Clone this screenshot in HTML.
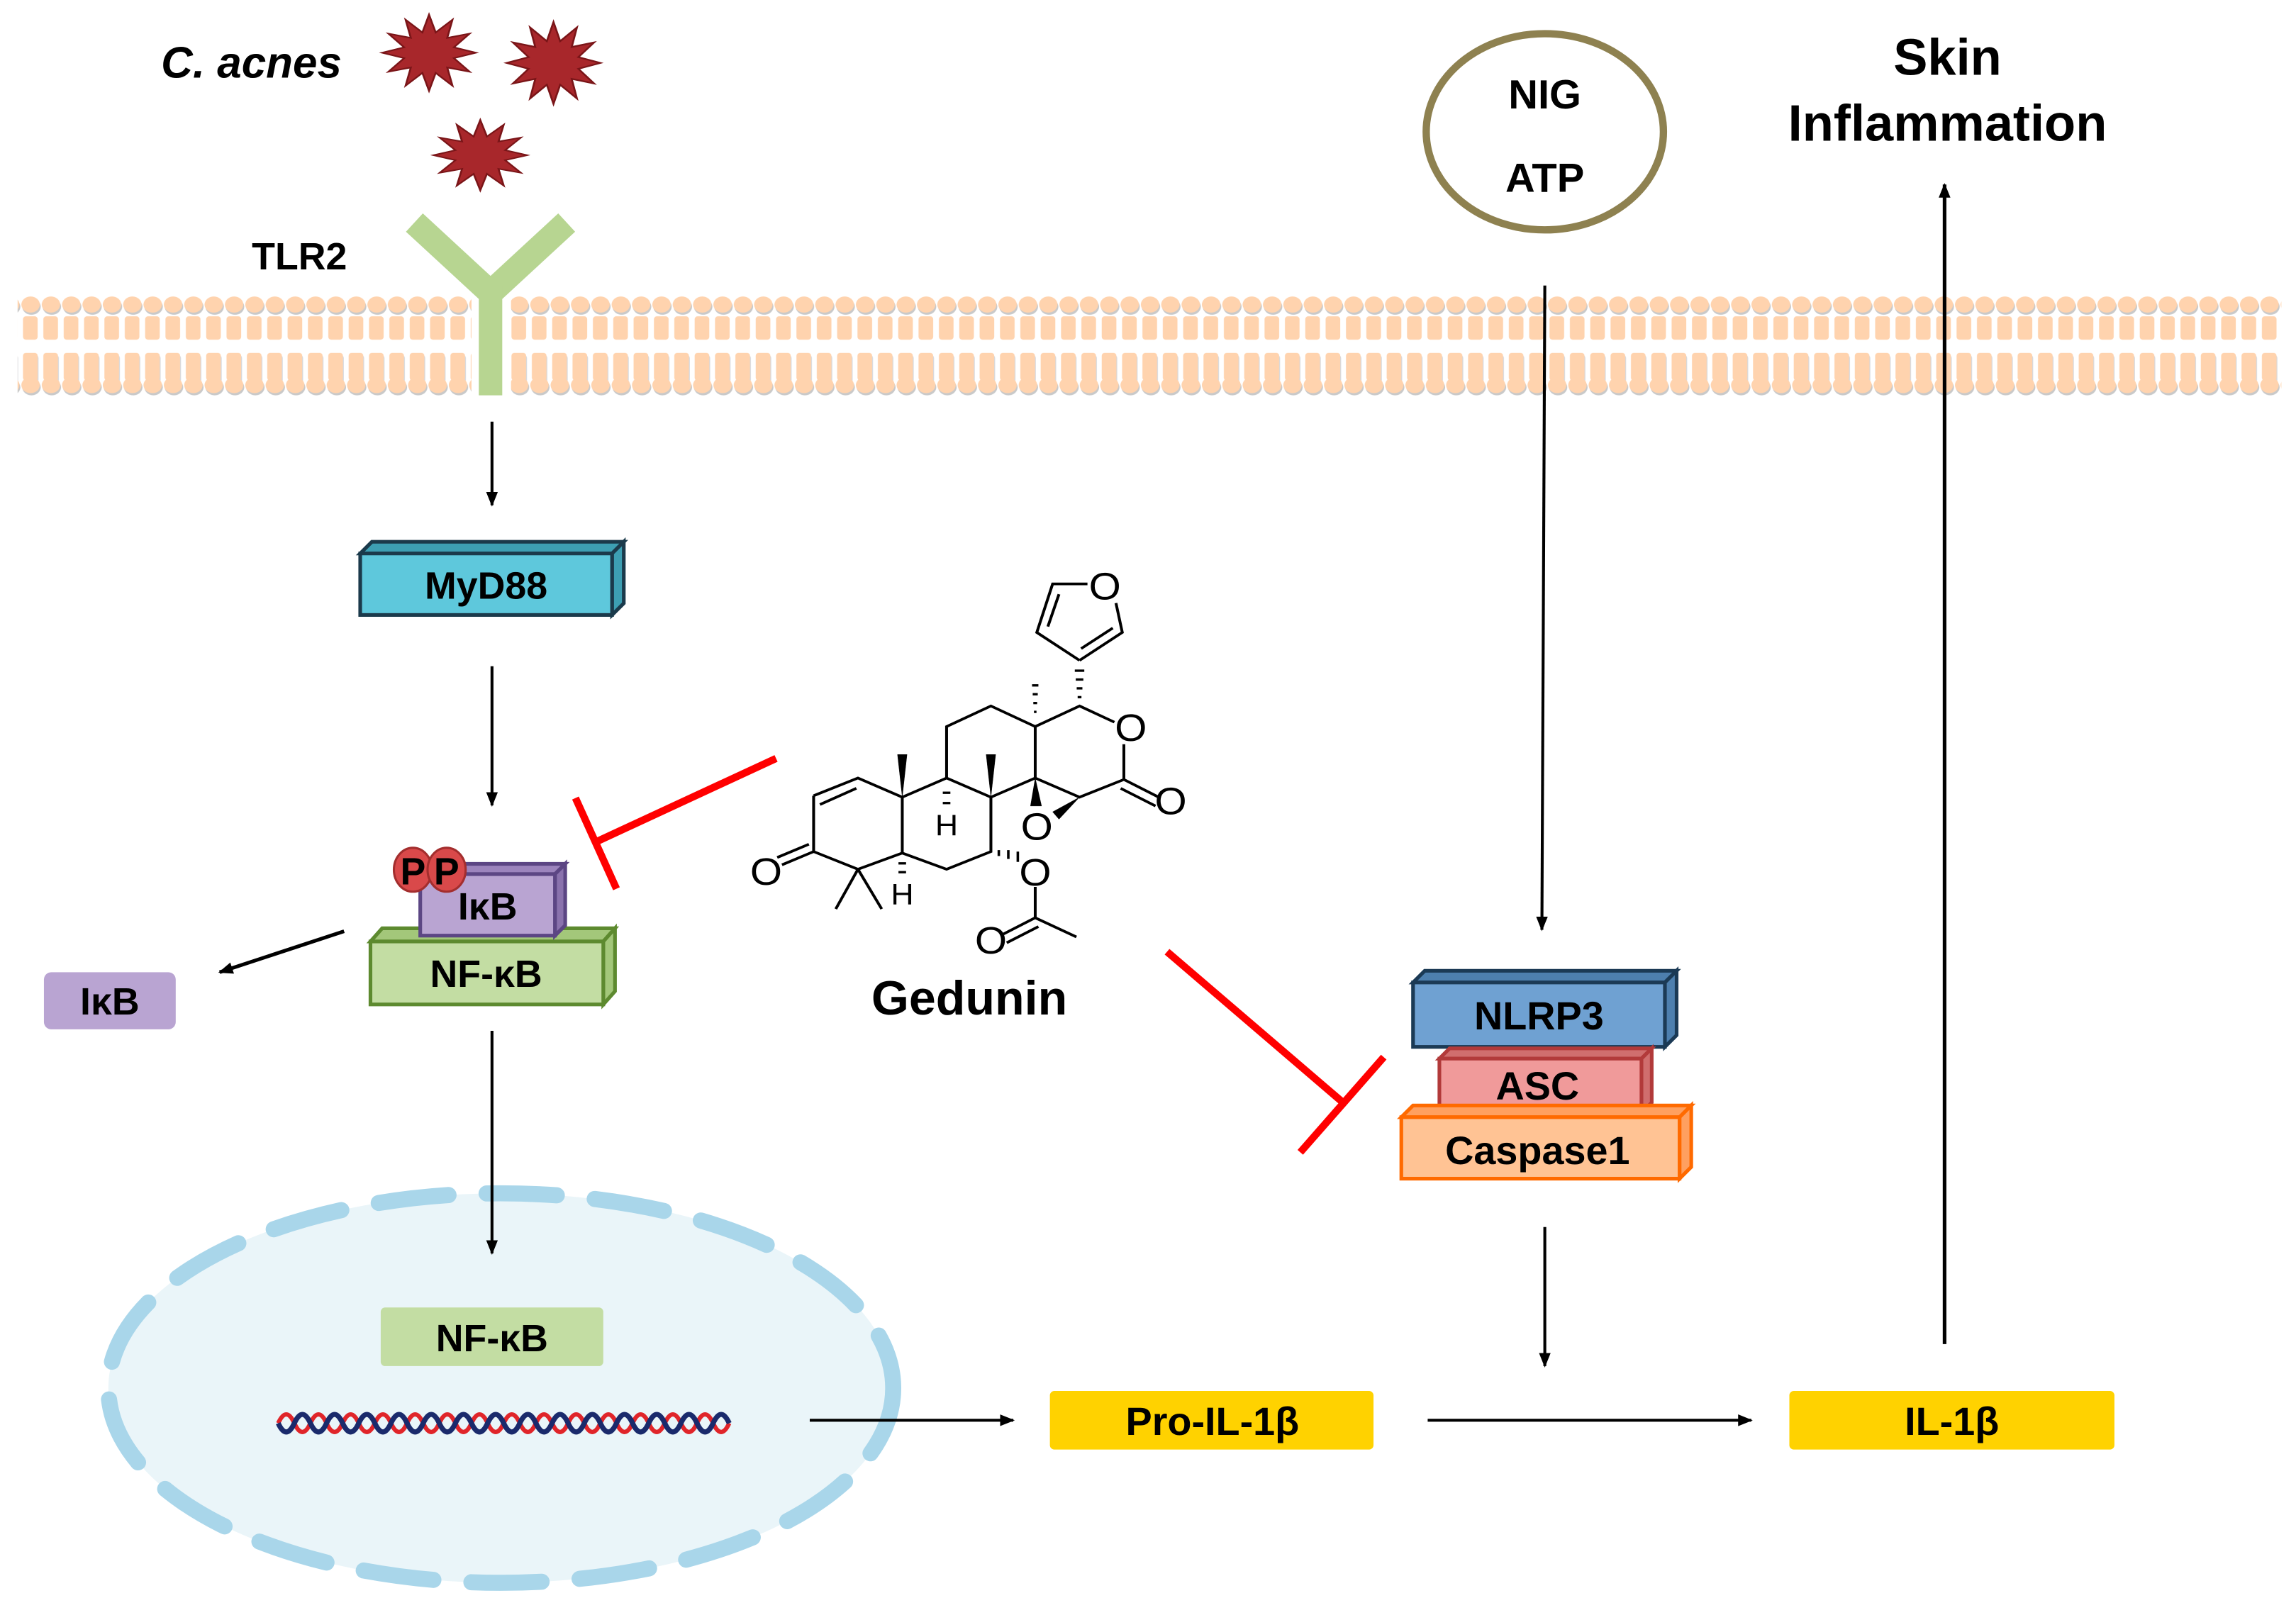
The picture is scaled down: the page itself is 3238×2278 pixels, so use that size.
<!DOCTYPE html>
<html><head><meta charset="utf-8">
<style>
html,body{margin:0;padding:0;background:#fff;}
svg{display:block;}
text{font-family:"Liberation Sans",sans-serif;font-weight:bold;fill:#000;}
</style></head>
<body>
<svg width="3238" height="2278" viewBox="0 0 1568 1103" preserveAspectRatio="none" xmlns="http://www.w3.org/2000/svg">
<defs>
<marker id="ah" markerWidth="10" markerHeight="10" refX="9" refY="5" orient="auto" markerUnits="userSpaceOnUse">
<path d="M0,1 L10,5 L0,9 Z" fill="#000"/>
</marker>
<pattern id="mem" x="0" y="198" width="13.9" height="80" patternUnits="userSpaceOnUse">
<ellipse cx="7" cy="10" rx="6.3" ry="5.5" fill="#c9c9c9" transform="translate(0.6,1.5)"/>
<ellipse cx="7" cy="10" rx="6.3" ry="5.5" fill="#ffd3ae"/>
<rect x="1.8" y="18" width="10" height="16" rx="2" fill="#ffd3ae"/>
<rect x="1.8" y="43" width="10" height="19" rx="2" fill="#d6d9de" transform="translate(0.6,1.5)"/>
<rect x="1.8" y="43" width="10" height="19" rx="2" fill="#ffd3ae"/>
<ellipse cx="7" cy="65" rx="6.3" ry="5.5" fill="#c9c9c9" transform="translate(0.6,1.5)"/>
<ellipse cx="7" cy="65" rx="6.3" ry="5.5" fill="#ffd3ae"/>
</pattern>
<polygon id="star" points="1,0 .531,.142 .866,.5 .389,.389 .5,.866 .142,.531 0,1 -.142,.531 -.5,.866 -.389,.389 -.866,.5 -.531,.142 -1,0 -.531,-.142 -.866,-.5 -.389,-.389 -.5,-.866 -.142,-.531 0,-1 .142,-.531 .5,-.866 .389,-.389 .866,-.5 .531,-.142"/>
</defs>

<!-- membrane -->
<rect x="12" y="198" width="310" height="74" fill="url(#mem)"/>
<rect x="349" y="198" width="1209" height="74" fill="url(#mem)"/>

<!-- C. acnes -->
<text x="110" y="53" font-size="30" font-style="italic">C. acnes</text>
<g fill="#a8272b" stroke="#7a1518" stroke-width="0.04">
<use href="#star" transform="translate(293,36) scale(32,26)"/>
<use href="#star" transform="translate(378,43) scale(32,28)"/>
<use href="#star" transform="translate(328,106) scale(32,24)"/>
</g>

<!-- TLR2 -->
<text x="172" y="184" font-size="26">TLR2</text>
<path d="M283,152 L335,200 L387,152" fill="none" stroke="#b7d591" stroke-width="17"/>
<rect x="327" y="195" width="16" height="75" fill="#b7d591"/>

<!-- nucleus -->
<ellipse cx="342" cy="948" rx="268" ry="133" fill="#eaf5f9" stroke="#a9d6ea" stroke-width="11" stroke-dasharray="48 26" stroke-linecap="round"/>
<rect x="260" y="893" width="152" height="40" rx="3" fill="#c3dda3"/>
<text x="336" y="923" font-size="26" text-anchor="middle">NF-κB</text>
<path d="M190 972 q5.5 -12 11 0 t11 0 t11 0 t11 0 t11 0 t11 0 t11 0 t11 0 t11 0 t11 0 t11 0 t11 0 t11 0 t11 0 t11 0 t11 0 t11 0 t11 0 t11 0 t11 0 t11 0 t11 0 t11 0 t11 0 t11 0 t11 0 t11 0 t11 0" fill="none" stroke="#e0252a" stroke-width="3"/>
<path d="M190 972 q5.5 12 11 0 t11 0 t11 0 t11 0 t11 0 t11 0 t11 0 t11 0 t11 0 t11 0 t11 0 t11 0 t11 0 t11 0 t11 0 t11 0 t11 0 t11 0 t11 0 t11 0 t11 0 t11 0 t11 0 t11 0 t11 0 t11 0 t11 0 t11 0" fill="none" stroke="#1a2a6c" stroke-width="3.5"/>

<!-- arrows left column -->
<line x1="336" y1="288" x2="336" y2="345" stroke="#000" stroke-width="2" marker-end="url(#ah)"/>
<line x1="336" y1="455" x2="336" y2="550" stroke="#000" stroke-width="2" marker-end="url(#ah)"/>
<line x1="336" y1="704" x2="336" y2="856" stroke="#000" stroke-width="2" marker-end="url(#ah)"/>
<line x1="235" y1="636" x2="150" y2="664" stroke="#000" stroke-width="2.5" marker-end="url(#ah)"/>

<!-- MyD88 -->
<g stroke="#1b3a4b" stroke-width="2.5">
<polygon points="246,378 254,370 426,370 418,378" fill="#3d9fb3"/>
<polygon points="418,378 426,370 426,412 418,420" fill="#3d9fb3"/>
<rect x="246" y="378" width="172" height="42" fill="#5ec8dc"/>
</g>
<text x="332" y="409" font-size="26" text-anchor="middle">MyD88</text>

<!-- NF-kB complex -->
<g stroke="#5d8a2f" stroke-width="2.5">
<polygon points="253,643 261,634 420,634 412,643" fill="#a3c77a"/>
<polygon points="412,643 420,634 420,677 412,686" fill="#a3c77a"/>
<rect x="253" y="643" width="159" height="43" fill="#c3dda3"/>
</g>
<g stroke="#5c4684" stroke-width="2.5">
<polygon points="287,597 294,590 386,590 379,597" fill="#9c84bd"/>
<polygon points="379,597 386,590 386,632 379,639" fill="#8a72ad"/>
<rect x="287" y="597" width="92" height="42" fill="#b9a4d2"/>
</g>
<text x="333" y="628" font-size="26" text-anchor="middle">IκB</text>
<text x="332" y="674" font-size="26" text-anchor="middle">NF-κB</text>
<ellipse cx="282" cy="594" rx="13" ry="15" fill="#d9494a" stroke="#a32e2e" stroke-width="1.5"/>
<ellipse cx="305" cy="594" rx="13" ry="15" fill="#d9494a" stroke="#a32e2e" stroke-width="1.5"/>
<text x="282" y="604" font-size="26" text-anchor="middle">P</text>
<text x="305" y="604" font-size="26" text-anchor="middle">P</text>

<!-- free IkB -->
<rect x="30" y="664" width="90" height="39" rx="5" fill="#b9a4d2"/>
<text x="75" y="693" font-size="26" text-anchor="middle">IκB</text>

<!-- inhibitors -->
<g stroke="#ff0000" stroke-width="5">
<line x1="530" y1="518" x2="407" y2="575"/>
<line x1="393" y1="545" x2="421" y2="607"/>
<line x1="797" y1="650" x2="916" y2="752"/>
<line x1="888" y1="787" x2="945" y2="722"/>
</g>

<!-- Gedunin structure -->
<g transform="translate(484.3,377.7) scale(0.2162,0.2009)" fill="none" stroke="#000" stroke-width="9">
<polyline points="330,825 470,765 610,830 610,1020 470,1075 330,1015 330,825"/>
<line x1="350" y1="855" x2="465" y2="800"/>
<line x1="330" y1="1015" x2="230" y2="1060"/>
<line x1="315" y1="990" x2="215" y2="1035"/>
<line x1="470" y1="1075" x2="400" y2="1210"/>
<line x1="470" y1="1075" x2="545" y2="1210"/>
<polyline points="610,830 750,765 890,830 890,1015 750,1075 610,1020"/>
<polyline points="750,765 750,590 890,520 1030,590 1030,765 890,830"/>
<polyline points="1030,590 1170,520 1280,575"/>
<polyline points="1310,650 1310,770 1170,830 1030,765"/>
<line x1="1310" y1="770" x2="1420" y2="830"/>
<line x1="1300" y1="800" x2="1410" y2="860"/>
<polyline points="1170,365 1035,270 1085,105 1195,105"/>
<polyline points="1285,170 1305,270 1170,365"/>
<line x1="1070" y1="250" x2="1105" y2="140"/>
<line x1="1175" y1="325" x2="1275" y2="255"/>
<polyline points="1030,1135 1030,1240 1160,1305"/>
<line x1="1030" y1="1240" x2="930" y2="1295"/>
<line x1="1040" y1="1270" x2="940" y2="1325"/>
</g>
<g transform="translate(484.3,377.7) scale(0.2162,0.2009)" stroke="#000">
<polygon points="610,830 595,685 625,685" fill="#000"/>
<polygon points="890,830 875,685 905,685" fill="#000"/>
<polygon points="1030,765 1015,860 1050,860" fill="#000"/>
<polygon points="1170,830 1085,880 1105,905" fill="#000"/>
<g stroke-width="8">
<line x1="1020" y1="450" x2="1040" y2="450"/><line x1="1022" y1="480" x2="1038" y2="480"/><line x1="1024" y1="510" x2="1036" y2="510"/><line x1="1026" y1="540" x2="1034" y2="540"/>
<line x1="1155" y1="400" x2="1185" y2="400"/><line x1="1158" y1="430" x2="1182" y2="430"/><line x1="1161" y1="460" x2="1179" y2="460"/><line x1="1164" y1="490" x2="1176" y2="490"/>
<line x1="738" y1="815" x2="762" y2="815"/><line x1="738" y1="850" x2="762" y2="850"/>
<line x1="598" y1="1055" x2="622" y2="1055"/><line x1="598" y1="1085" x2="622" y2="1085"/>
<line x1="915" y1="1010" x2="915" y2="1030"/><line x1="945" y1="1010" x2="945" y2="1040"/><line x1="975" y1="1015" x2="975" y2="1050"/>
</g>
<g stroke="none" font-size="130" text-anchor="middle" style="font-weight:normal">
<text x="1250" y="158" style="font-weight:normal">O</text>
<text x="1332" y="638" style="font-weight:normal">O</text>
<text x="1458" y="888" style="font-weight:normal">O</text>
<text x="1035" y="975" style="font-weight:normal">O</text>
<text x="180" y="1128" style="font-weight:normal">O</text>
<text x="1030" y="1130" style="font-weight:normal">O</text>
<text x="890" y="1362" style="font-weight:normal">O</text>
<text x="750" y="960" font-size="100" style="font-weight:normal">H</text>
<text x="610" y="1195" font-size="100" style="font-weight:normal">H</text>
</g>
</g>
<text x="662" y="693" font-size="33" text-anchor="middle">Gedunin</text>

<!-- NIG ATP -->
<ellipse cx="1055" cy="90" rx="81" ry="67" fill="none" stroke="#8e8150" stroke-width="5"/>
<text x="1055" y="74" font-size="28" text-anchor="middle">NIG</text>
<text x="1055" y="131" font-size="28" text-anchor="middle">ATP</text>
<line x1="1055" y1="195" x2="1053" y2="635" stroke="#000" stroke-width="2" marker-end="url(#ah)"/>

<!-- Skin inflammation -->
<text x="1330" y="51" font-size="35" text-anchor="middle">Skin</text>
<text x="1330" y="96" font-size="35" text-anchor="middle">Inflammation</text>
<line x1="1328" y1="918" x2="1328" y2="126" stroke="#000" stroke-width="2.5" marker-end="url(#ah)"/>

<!-- inflammasome -->
<g stroke-width="2.5">
<g stroke="#1b3a55">
<polygon points="965,671 973,663 1145,663 1137,671" fill="#4d7fae"/>
<polygon points="1137,671 1145,663 1145,707 1137,715" fill="#4d7fae"/>
<rect x="965" y="671" width="172" height="44" fill="#6fa1d2"/>
</g>
<g stroke="#b23a3a">
<polygon points="983,723 990,716 1128,716 1121,723" fill="#d06e6e"/>
<polygon points="1121,723 1128,716 1128,753 1121,760" fill="#d06e6e"/>
<rect x="983" y="723" width="138" height="37" fill="#f09a9a"/>
</g>
<g stroke="#ff6a00">
<polygon points="957,763 965,755 1155,755 1147,763" fill="#ffa060"/>
<polygon points="1147,763 1155,755 1155,797 1147,805" fill="#ffa060"/>
<rect x="957" y="763" width="190" height="42" fill="#ffc394"/>
</g>
</g>
<text x="1051" y="703" font-size="27" text-anchor="middle">NLRP3</text>
<text x="1050" y="751" font-size="27" text-anchor="middle">ASC</text>
<text x="1050" y="795" font-size="27" text-anchor="middle">Caspase1</text>
<line x1="1055" y1="838" x2="1055" y2="933" stroke="#000" stroke-width="2" marker-end="url(#ah)"/>

<!-- bottom row -->
<line x1="553" y1="970" x2="692" y2="970" stroke="#000" stroke-width="2" marker-end="url(#ah)"/>
<rect x="717" y="950" width="221" height="40" rx="3" fill="#ffd200"/>
<text x="828" y="980" font-size="27" text-anchor="middle">Pro-IL-1β</text>
<line x1="975" y1="970" x2="1196" y2="970" stroke="#000" stroke-width="2" marker-end="url(#ah)"/>
<rect x="1222" y="950" width="222" height="40" rx="3" fill="#ffd200"/>
<text x="1333" y="980" font-size="27" text-anchor="middle">IL-1β</text>
</svg>
</body></html>
